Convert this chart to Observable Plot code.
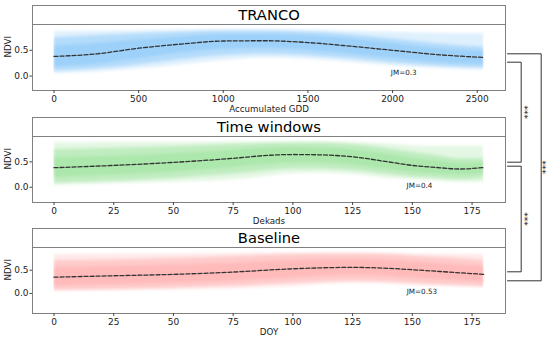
<!DOCTYPE html>
<html><head><meta charset="utf-8">
<script src="https://cdn.jsdelivr.net/npm/d3@7"></script>
<script src="https://cdn.jsdelivr.net/npm/@observablehq/plot@0.6"></script>
<style>
body{margin:0;background:#fff;font-family:"DejaVu Sans",sans-serif;}
#chart{position:relative;width:550px;height:338px;overflow:hidden;background:#fff;}
.panel{position:absolute;left:0;}
.title{position:absolute;left:32px;width:474px;height:20px;box-sizing:border-box;border:1px solid #808080;background:#fff;
  font-family:"DejaVu Sans",sans-serif;font-size:14.7px;line-height:18px;text-align:center;color:#000;}
.overlay{position:absolute;left:0;top:0;pointer-events:none;}
</style>
</head><body>
<div id="chart"></div>
<script>
// ---------- DATA ----------
const panelTitles = ["TRANCO", "Time windows", "Baseline"];
const xLabels = ["Accumulated GDD", "Dekads", "DOY"];
const jmTexts = ["JM=0.3", "JM=0.4", "JM=0.53"];
const jmX = [2066, 153, 154];
const jmY = [0.06, 0.04, 0.04];

const trancoTicks = [0, 500, 1000, 1500, 2000, 2500];
const dekadTicks = [0, 25, 50, 75, 100, 125, 150, 175];
const doyTicks = [0, 25, 50, 75, 100, 125, 150, 175];
const ndviTicks = [0, 0.5];

const trancoX     = [0, 250, 500, 750, 1000, 1250, 1500, 1750, 2000, 2250, 2540];
const trancoMean  = [0.38, 0.43, 0.54, 0.62, 0.68, 0.685, 0.65, 0.58, 0.50, 0.42, 0.36];
const trancoOutHi = [0.86, 0.87, 0.88, 0.89, 0.90, 0.90, 0.89, 0.87, 0.85, 0.83, 0.82];
const trancoOutLo = [0.05, 0.08, 0.14, 0.22, 0.30, 0.35, 0.33, 0.27, 0.20, 0.15, 0.12];
const trancoInHi  = [0.74, 0.78, 0.82, 0.85, 0.87, 0.87, 0.85, 0.80, 0.72, 0.63, 0.56];
const trancoInLo  = [0.10, 0.14, 0.22, 0.32, 0.40, 0.43, 0.40, 0.34, 0.26, 0.20, 0.16];
const trancoCoHi  = [0.58, 0.63, 0.70, 0.76, 0.80, 0.80, 0.78, 0.72, 0.63, 0.54, 0.48];
const trancoCoLo  = [0.18, 0.23, 0.34, 0.45, 0.52, 0.54, 0.50, 0.43, 0.35, 0.27, 0.22];

const twX     = [0, 25, 50, 75, 90, 100, 110, 125, 140, 150, 160, 170, 180];
const twMean  = [0.385, 0.43, 0.49, 0.57, 0.63, 0.645, 0.64, 0.60, 0.50, 0.43, 0.39, 0.36, 0.39];
const twOutHi = [0.87, 0.88, 0.88, 0.89, 0.89, 0.89, 0.89, 0.88, 0.85, 0.82, 0.81, 0.81, 0.81];
const twOutLo = [0.04, 0.07, 0.10, 0.15, 0.22, 0.27, 0.28, 0.25, 0.18, 0.15, 0.13, 0.10, 0.10];
const twInHi  = [0.74, 0.77, 0.80, 0.84, 0.86, 0.87, 0.87, 0.84, 0.76, 0.69, 0.63, 0.56, 0.56];
const twInLo  = [0.08, 0.12, 0.18, 0.26, 0.33, 0.36, 0.36, 0.33, 0.25, 0.20, 0.18, 0.15, 0.18];
const twCoHi  = [0.58, 0.61, 0.66, 0.73, 0.78, 0.79, 0.78, 0.74, 0.65, 0.57, 0.52, 0.47, 0.49];
const twCoLo  = [0.19, 0.24, 0.30, 0.39, 0.45, 0.48, 0.48, 0.44, 0.35, 0.29, 0.26, 0.24, 0.27];

const blX     = [0, 25, 50, 75, 100, 125, 140, 150, 165, 180];
const blMean  = [0.35, 0.38, 0.41, 0.46, 0.53, 0.56, 0.54, 0.51, 0.46, 0.41];
const blOutHi = [0.83, 0.84, 0.85, 0.86, 0.87, 0.87, 0.86, 0.85, 0.84, 0.83];
const blOutLo = [0.05, 0.06, 0.08, 0.10, 0.15, 0.22, 0.20, 0.17, 0.15, 0.13];
const blInHi  = [0.70, 0.72, 0.75, 0.79, 0.83, 0.84, 0.83, 0.80, 0.76, 0.70];
const blInLo  = [0.07, 0.09, 0.12, 0.16, 0.22, 0.27, 0.25, 0.22, 0.18, 0.15];
const blCoHi  = [0.55, 0.58, 0.61, 0.65, 0.71, 0.73, 0.71, 0.68, 0.63, 0.58];
const blCoLo  = [0.16, 0.19, 0.22, 0.27, 0.34, 0.39, 0.37, 0.34, 0.29, 0.25];

const xDomains = [[-127, 2667], [-9, 189], [-9, 189]];
const yDomains = [[-0.28, 1.0], [-0.3, 1.0], [-0.43, 0.987]];

const comparisons = [
  {from: 0, to: 1, label: "***"},
  {from: 1, to: 2, label: "***"},
  {from: 0, to: 2, label: "***"}
];

// ---------- STYLE / LAYOUT ----------
const bandColors = ["#80c4f8", "#95e095", "#ffa7a7"];
const W = 550, H = 338;
const panelTops = [0, 112, 223];
const panelH = 112, mTop = 24, mBottom = 22, mLeft = 32, mRight = 45;
const bracketGeom = [
  {xv: 520.7, dTop: 4.7, dBot: -7.3, starDx: 6.5},
  {xv: 520.7, dTop: -3.3, dBot: -8.7, starDx: 6.5},
  {xv: 540.7, dTop: -3.7, dBot: 0.3, starDx: 4.5}
];

function rows(x, mean, oHi, oLo, iHi, iLo, cHi, cLo) {
  return x.map((d, i) => ({x: d, mean: mean[i], oHi: oHi[i], oLo: oLo[i], iHi: iHi[i], iLo: iLo[i], cHi: cHi[i], cLo: cLo[i]}));
}
const panelRows = [
  rows(trancoX, trancoMean, trancoOutHi, trancoOutLo, trancoInHi, trancoInLo, trancoCoHi, trancoCoLo),
  rows(twX, twMean, twOutHi, twOutLo, twInHi, twInLo, twCoHi, twCoLo),
  rows(blX, blMean, blOutHi, blOutLo, blInHi, blInLo, blCoHi, blCoLo)
];
const panelTicks = [trancoTicks, dekadTicks, doyTicks];

const chart = document.getElementById("chart");
const SVGNS = "http://www.w3.org/2000/svg";

panelRows.forEach((data, p) => {
  const color = bandColors[p];
  const curve = "monotone-x";
  const svg = Plot.plot({
    width: W, height: panelH,
    marginTop: mTop, marginBottom: mBottom, marginLeft: mLeft, marginRight: mRight,
    style: {fontFamily: "DejaVu Sans, sans-serif", fontSize: "9px", color: "#222", background: "transparent", overflow: "visible"},
    x: {domain: xDomains[p]},
    y: {domain: yDomains[p]},
    marks: [
      Plot.areaY(data, {x: "x", y1: "oLo", y2: "oHi", fill: color, fillOpacity: 0.25, curve}),
      Plot.areaY(data, {x: "x", y1: "iLo", y2: "iHi", fill: color, fillOpacity: 0.45, curve}),
      Plot.areaY(data, {x: "x", y1: "cLo", y2: "cHi", fill: color, fillOpacity: 0.45, curve}),
      Plot.lineY(data, {x: "x", y: "mean", stroke: "#333", strokeWidth: 1.3, strokeDasharray: "4,2", curve}),
      Plot.text([jmTexts[p]], {x: jmX[p], y: jmY[p], text: d => d, fontSize: 7.2, fill: "#222"}),
      Plot.frame({stroke: "#808080", strokeWidth: 1}),
      Plot.axisX({ticks: panelTicks[p], tickSize: 3, tickPadding: 2.5, label: null, tickFormat: d3.format("d"), stroke: "#444"}),
      Plot.axisY({ticks: ndviTicks, tickSize: 2.5, tickPadding: 1.5, label: null, tickFormat: d3.format(".1f"), stroke: "#444"}),
      Plot.text([xLabels[p]], {frameAnchor: "bottom", lineAnchor: "middle", dy: 19, text: d => d, fontSize: 8.7, fill: "#222"}),
      Plot.text(["NDVI"], {frameAnchor: "left", lineAnchor: "middle", dx: -24, rotate: -90, text: d => d, fontSize: 8.7, fill: "#222"})
    ]
  });
  // soften band edges vertically (many overlapping thin curves), keep the ends crisp
  const xs = svg.scale("x");
  const x0 = xs.apply(data[0].x), x1 = xs.apply(data[data.length - 1].x);
  const defs = document.createElementNS(SVGNS, "defs");
  const cp = document.createElementNS(SVGNS, "clipPath");
  cp.setAttribute("id", "bandclip" + p);
  const r = document.createElementNS(SVGNS, "rect");
  r.setAttribute("x", x0); r.setAttribute("width", x1 - x0);
  r.setAttribute("y", mTop); r.setAttribute("height", panelH - mTop - mBottom);
  cp.appendChild(r); defs.appendChild(cp); svg.insertBefore(defs, svg.firstChild);
  svg.querySelectorAll('g[aria-label="area"]').forEach(g => {
    const outer = document.createElementNS(SVGNS, "g");
    outer.setAttribute("clip-path", `url(#bandclip${p})`);
    g.parentNode.insertBefore(outer, g);
    outer.appendChild(g);
    g.style.filter = "blur(1.4px)";
  });
  const wrap = document.createElement("div");
  wrap.className = "panel";
  wrap.style.top = panelTops[p] + "px";
  wrap.appendChild(svg);
  chart.appendChild(wrap);

  const t = document.createElement("div");
  t.className = "title";
  t.textContent = panelTitles[p];
  t.style.top = (panelTops[p] + mTop - 19.5) + "px";
  chart.appendChild(t);
});

// ---------- significance brackets ----------
const centers = panelTops.map(t => t + mTop + (panelH - mTop - mBottom) / 2);
const xStart = W - mRight + 2;
const bracketPts = [];
const starPts = [];
comparisons.forEach((c, i) => {
  const g = bracketGeom[i];
  const yT = centers[c.from] + g.dTop, yB = centers[c.to] + g.dBot;
  [[xStart, yT], [g.xv, yT], [g.xv, yB], [xStart, yB]].forEach(([x, y]) => bracketPts.push({id: i, x, y}));
  starPts.push({x: g.xv + g.starDx, y: (yT + yB) / 2, label: c.label});
});
const overlay = Plot.plot({
  width: W, height: H, margin: 0,
  x: {domain: [0, W], range: [0, W], axis: null},
  y: {domain: [0, H], range: [0, H], axis: null},
  style: {background: "transparent", overflow: "visible"},
  marks: [
    Plot.line(bracketPts, {x: "x", y: "y", z: "id", stroke: "#333", strokeWidth: 1}),
    Plot.text(starPts, {x: "x", y: "y", text: "label", rotate: -90, fontSize: 9, fill: "#222", fontFamily: "DejaVu Sans"})
  ]
});
const ov = document.createElement("div");
ov.className = "overlay";
ov.appendChild(overlay);
chart.appendChild(ov);
</script>
</body></html>
